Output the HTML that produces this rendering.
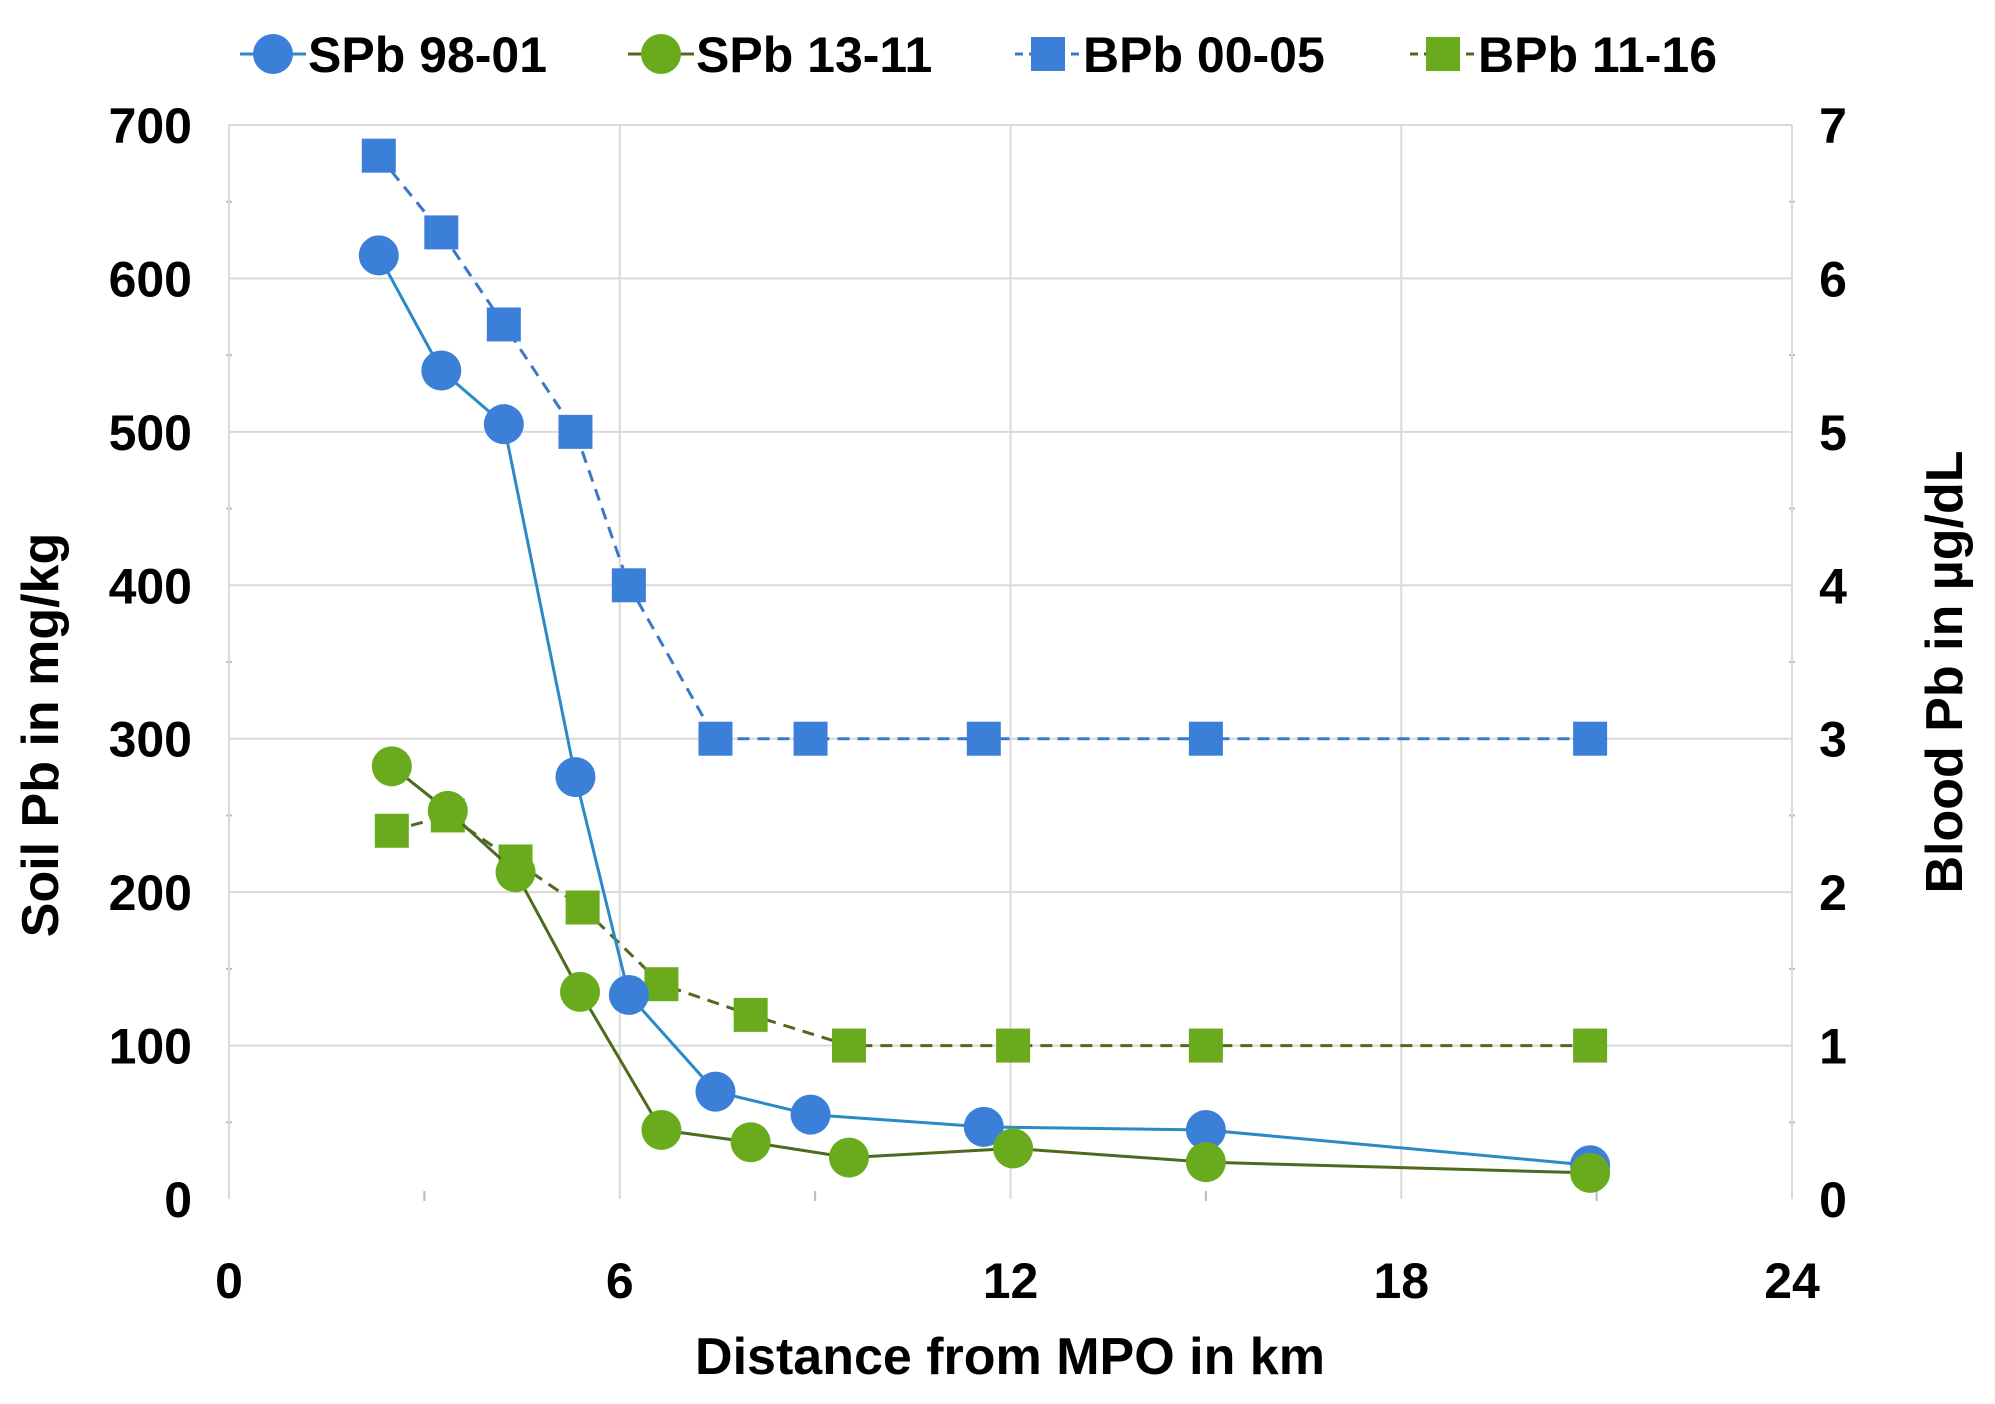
<!DOCTYPE html>
<html><head><meta charset="utf-8">
<style>
html,body{margin:0;padding:0;background:#fff;}
svg{display:block;font-family:"Liberation Sans",sans-serif;font-weight:bold;}
</style></head>
<body>
<svg id="chart" width="1995" height="1404" viewBox="0 0 1995 1404" xmlns="http://www.w3.org/2000/svg">
<g id="grid"></g>
<g id="axes"></g>
<g id="series"></g>
<g id="legend"></g>
<text x="1010" y="1374" font-size="52" text-anchor="middle" fill="#000">Distance from MPO in km</text>
<text transform="translate(58,735) rotate(-90)" font-size="52" text-anchor="middle" fill="#000">Soil Pb in mg/kg</text>
<text transform="translate(1962,672) rotate(-90)" font-size="52" text-anchor="middle" fill="#000">Blood Pb in µg/dL</text>
</svg>
<script>
const xTicks=[0,6,12,18,24];
const yLeftTicks=[0,100,200,300,400,500,600,700];
const yRightTicks=[0,1,2,3,4,5,6,7];
const spb9801X=[2.3,3.26,4.22,5.32,6.14,7.47,8.93,11.59,15.0,20.9];
const spb9801Y=[615,540,505,275,133,70,55,47,45,22];
const spb1311X=[2.5,3.36,4.4,5.39,6.64,8.01,9.52,12.04,15.0,20.9];
const spb1311Y=[282,253,213,135,45,37,27,33,24,17];
const bpb0005X=[2.3,3.26,4.22,5.32,6.14,7.47,8.93,11.59,15.0,20.9];
const bpb0005Y=[6.8,6.3,5.7,5.0,4.0,3,3,3,3,3];
const bpb1116X=[2.5,3.36,4.4,5.43,6.64,8.01,9.52,12.04,15.0,20.9];
const bpb1116Y=[2.4,2.5,2.2,1.9,1.4,1.2,1,1,1,1];

const NS="http://www.w3.org/2000/svg";
const L=229,R=1792,T=125,B=1199;
const sx=v=>L+(R-L)*v/24;
const syL=v=>B-(B-T)*v/700;
const syR=v=>B-(B-T)*v/7;
function mk(tag,attrs,parent){const e=document.createElementNS(NS,tag);for(const k in attrs)e.setAttribute(k,attrs[k]);parent.appendChild(e);return e;}
const grid=document.getElementById('grid'),axes=document.getElementById('axes'),ser=document.getElementById('series'),leg=document.getElementById('legend');

yLeftTicks.forEach((v,i)=>{
  if(v>0){const g=mk('line',{x1:L,x2:R,y1:syL(v),y2:syL(v),stroke:'#d9d9d9','stroke-width':2},grid);
  
  }
  const t=mk('text',{x:192,y:syL(v)+18,'font-size':50,'text-anchor':'end',fill:'#000'},axes);t.textContent=v;
  
  
  if(i<yLeftTicks.length-1){
    const m=mk('line',{x1:L-3,x2:L+3,y1:syL(v+50),y2:syL(v+50),stroke:'#bbb','stroke-width':2},axes);
    
    
    const m2=mk('line',{x1:R-3,x2:R+3,y1:syL(v+50),y2:syL(v+50),stroke:'#bbb','stroke-width':2},axes);
    
    
  }
});
yRightTicks.forEach(v=>{
  const t=mk('text',{x:1833,y:syR(v)+18,'font-size':50,'text-anchor':'middle',fill:'#000'},axes);t.textContent=v;
  
  
});
xTicks.forEach((v,i)=>{
  if(v>0&&v<24){const g=mk('line',{x1:sx(v),x2:sx(v),y1:T,y2:B,stroke:'#d9d9d9','stroke-width':2},grid);
  
  }
  const t=mk('text',{x:sx(v),y:1298,'font-size':50,'text-anchor':'middle',fill:'#000'},axes);t.textContent=v;
  
  
  if(i<xTicks.length-1){const m=mk('line',{x1:sx(v+3),x2:sx(v+3),y1:B-8,y2:B+2,stroke:'#bbb','stroke-width':2},axes);
  
  }
});
const la=mk('line',{x1:L,x2:L,y1:T,y2:B,stroke:'#d9d9d9','stroke-width':2},axes);


const ra=mk('line',{x1:R,x2:R,y1:T,y2:B,stroke:'#d9d9d9','stroke-width':2},axes);



function series(xs,ys,sy,lineColor,fill,dash,shape,name){
  const pts=xs.map((x,i)=>sx(x)+','+sy(ys[i])).join(' ');
  const pl=mk('polyline',{points:pts,fill:'none',stroke:lineColor,'stroke-width':3,'stroke-dasharray':dash},ser);
  
  
  xs.forEach((x,i)=>{
    let e;
    if(shape==='c') e=mk('circle',{cx:sx(x),cy:sy(ys[i]),r:20,fill:fill},ser);
    else e=mk('rect',{x:sx(x)-17,y:sy(ys[i])-17,width:34,height:34,fill:fill},ser);
    
    
  });
}
series(bpb0005X,bpb0005Y,syR,'#3a78c8','#3b7fd9','12,8','s','bpb-00-05');
series(bpb1116X,bpb1116Y,syR,'#4d6b1e','#6aab1e','12,8','s','bpb-11-16');
series(spb9801X,spb9801Y,syL,'#2b8ac6','#3b7fd9','none','c','spb-98-01');
series(spb1311X,spb1311Y,syL,'#4d6b1e','#6aab1e','none','c','spb-13-11');

const items=[
 {x:240,label:'SPb 98-01',c:'#3b7fd9',lc:'#2b8ac6',s:'c',d:'none'},
 {x:628,label:'SPb 13-11',c:'#6aab1e',lc:'#4d6b1e',s:'c',d:'none'},
 {x:1015,label:'BPb 00-05',c:'#3b7fd9',lc:'#3a78c8',s:'s',d:'8,6'},
 {x:1410,label:'BPb 11-16',c:'#6aab1e',lc:'#4d6b1e',s:'s',d:'8,6'}];
items.forEach(it=>{
  const g=mk('g',{},leg);
  
  
  mk('line',{x1:it.x,x2:it.x+66,y1:54,y2:54,stroke:it.lc,'stroke-width':3,'stroke-dasharray':it.d},g);
  if(it.s==='c') mk('circle',{cx:it.x+33,cy:54,r:20,fill:it.c},g);
  else mk('rect',{x:it.x+16,y:37,width:34,height:34,fill:it.c},g);
  const t=mk('text',{x:it.x+68,y:72,'font-size':50,fill:'#000'},g);t.textContent=it.label;
});
</script>
</body></html>
